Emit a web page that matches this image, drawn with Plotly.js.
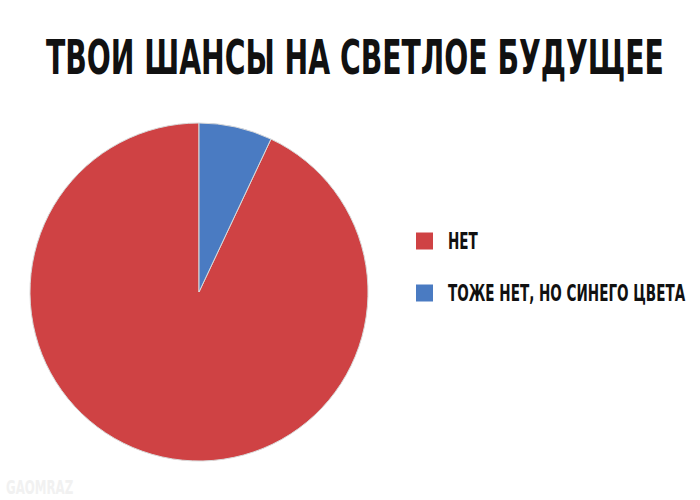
<!DOCTYPE html>
<html>
<head>
<meta charset="utf-8">
<script src="https://cdn.plot.ly/plotly-3.0.1.min.js"></script>
<style>html,body{margin:0;padding:0;background:#fff;}#chart{width:700px;height:500px;}
text{font-stretch:condensed !important;}</style>
</head>
<body>
<div id="chart"></div>
<script>
var titleText = "ТВОИ ШАНСЫ НА СВЕТЛОЕ БУДУЩЕЕ";
var labels = ["НЕТ", "ТОЖЕ НЕТ, НО СИНЕГО ЦВЕТА"];
var values = [93, 7];
var colors = ["#cf4244", "#4a7bc2"];
var watermark = "GAOMRAZ";

var FONT = "'DejaVu Sans', sans-serif";
var TITLE_WIDTH = 618;

var total = values.reduce(function (a, b) { return a + b; }, 0);

var trace = {
  type: "pie",
  labels: labels,
  values: values,
  sort: false,
  direction: "clockwise",
  rotation: values[1] / total * 360,
  marker: {colors: colors, line: {color: "#d9d9d9", width: 1}},
  textinfo: "none",
  hoverinfo: "label+percent",
  domain: {x: [30/700, 368/700], y: [1 - 461/500, 1 - 123/500]},
  showlegend: false
};

// size: rendered font size; tall: visual height it is stretched to (tall condensed poster lettering)
var textStyle = [{size: 31, tall: 48, left: false}];
var annotations = [{
  text: titleText,
  xref: "paper", yref: "paper", x: 355/700, y: 1 - 57/500,
  xanchor: "center", yanchor: "middle", showarrow: false,
  font: {family: FONT, size: 31, weight: 700, color: "#111111"}
}];
var shapes = [];
var rowY = [241, 293];
for (var i = 0; i < labels.length; i++) {
  var yc = 1 - rowY[i] / 500;
  shapes.push({
    type: "rect", xref: "paper", yref: "paper",
    x0: 416/700, x1: 433/700, y0: yc - 8.5/500, y1: yc + 8.5/500,
    fillcolor: colors[i], line: {width: 0}
  });
  annotations.push({
    text: labels[i],
    xref: "paper", yref: "paper", x: 446/700, y: yc,
    xanchor: "left", yanchor: "middle", showarrow: false,
    font: {family: FONT, size: 15, weight: 700, color: "#111111"}
  });
  textStyle.push({size: 15, tall: 23, left: true});
}
annotations.push({
  text: watermark,
  xref: "paper", yref: "paper", x: 4/700, y: 1 - 487/500,
  xanchor: "left", yanchor: "middle", showarrow: false,
  font: {family: FONT, size: 13, weight: 700, color: "#f1f1f1"}
});
textStyle.push({size: 13, tall: 20, left: true});

var layout = {
  width: 700, height: 500,
  margin: {l: 0, r: 0, t: 0, b: 0},
  paper_bgcolor: "#ffffff",
  plot_bgcolor: "#ffffff",
  showlegend: false,
  annotations: annotations,
  shapes: shapes
};

Plotly.newPlot("chart", [trace], layout, {displayModeBar: false, staticPlot: true}).then(function (gd) {
  var texts = gd.querySelectorAll(".annotation-text");
  if (!texts.length) return;
  var k0 = textStyle[0].tall / textStyle[0].size;
  var f = TITLE_WIDTH / (texts[0].getComputedTextLength() * k0);
  texts.forEach(function (el, idx) {
    var st = textStyle[idx];
    var k = st.tall / st.size;
    var w = el.getComputedTextLength();
    var b0 = el.getBBox();
    el.setAttribute("lengthAdjust", "spacingAndGlyphs");
    el.setAttribute("textLength", (w * f * k).toFixed(2));
    var b1 = el.getBBox();
    if (st.left) {
      var x = parseFloat(el.getAttribute("x") || "0");
      el.setAttribute("x", (x + (b0.x - b1.x)).toFixed(2));
    }
    var cy = b1.y + b1.height / 2;
    el.setAttribute("transform", "translate(0," + cy.toFixed(2) + ") scale(1," + k.toFixed(4) + ") translate(0," + (-cy).toFixed(2) + ")");
  });
});
</script>
</body>
</html>
